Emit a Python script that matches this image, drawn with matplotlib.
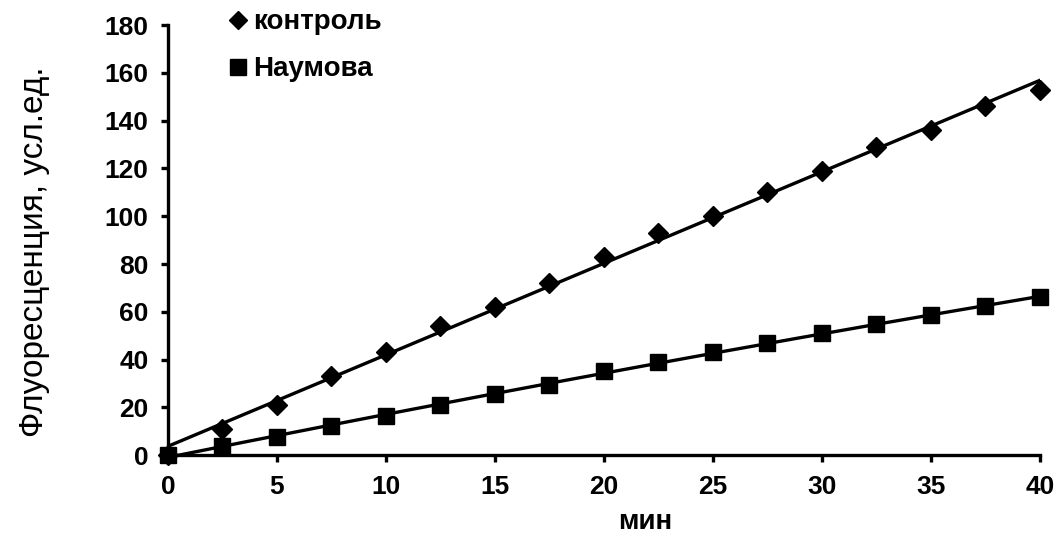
"""Флуоресценция во времени: контроль и Наумова, с линиями тренда."""

import matplotlib

matplotlib.use("Agg")
import matplotlib.pyplot as plt
import numpy as np
from matplotlib.lines import Line2D

# время, мин
minutes = [0, 2.5, 5, 7.5, 10, 12.5, 15, 17.5, 20, 22.5, 25, 27.5, 30, 32.5, 35, 37.5, 40]
# флуоресценция, усл.ед.
control = [0, 11, 21, 33, 43, 54, 62, 72, 83, 93, 100, 110, 119, 129, 136, 146, 153]
naumova = [0, 4, 7.5, 12, 16.5, 21, 25.5, 29.5, 35, 39, 43, 47, 51, 55, 58.5, 62.5, 66]

series_labels = ["контроль", "Наумова"]
x_ticks = [0, 5, 10, 15, 20, 25, 30, 35, 40]
y_ticks = [0, 20, 40, 60, 80, 100, 120, 140, 160, 180]

plt.rcParams["font.family"] = ["Liberation Sans", "DejaVu Sans"]

fig = plt.figure(figsize=(10.59, 5.36), dpi=100)
ax = fig.add_axes([0.1586, 0.151, 0.8234, 0.802])

x = np.asarray(minutes, dtype=float)
xs = np.linspace(0, 40, 200)

# линии тренда: линейная для контроля, полином 2-й степени для Наумовой
ctrl_fit = np.polyfit(x, control, 1)
naum_fit = np.polyfit(x, naumova, 2)
ax.plot(xs, np.polyval(ctrl_fit, xs), color="black", lw=2.4, zorder=2)
ax.plot(xs, np.polyval(naum_fit, xs), color="black", lw=2.4, zorder=2)

ax.plot(x, control, ls="none", marker="D", ms=10, color="black", zorder=3, clip_on=False)
ax.plot(x, naumova, ls="none", marker="s", ms=11, color="black", zorder=3, clip_on=False)

ax.set_xlim(0, 40)
ax.set_ylim(0, 180)
ax.set_xticks(x_ticks)
ax.set_yticks(y_ticks)
for side in ("top", "right"):
    ax.spines[side].set_visible(False)
for side in ("left", "bottom"):
    ax.spines[side].set_linewidth(2.4)
ax.tick_params(axis="both", width=2.4, length=5, labelsize=19, pad=9)
for lbl in ax.get_xticklabels() + ax.get_yticklabels():
    lbl.set_fontweight("bold")

ax.set_xlabel("мин", fontsize=20, fontweight="bold")
ax.xaxis.set_label_coords(0.547, -0.125)
ax.set_ylabel("Флуоресценция, усл.ед.", fontsize=24)
ax.yaxis.set_label_coords(-0.135, 0.472)

handles = [
    Line2D([], [], ls="none", marker="D", ms=9, color="black"),
    Line2D([], [], ls="none", marker="s", ms=11, color="black"),
]
fig.legend(
    handles,
    series_labels,
    loc="upper left",
    bbox_to_anchor=(0.193, 1.029),
    frameon=False,
    handlelength=0.6,
    handletextpad=0.25,
    labelspacing=0.75,
    prop={"size": 20, "weight": "bold"},
)

fig.savefig("out.png", dpi=100)
